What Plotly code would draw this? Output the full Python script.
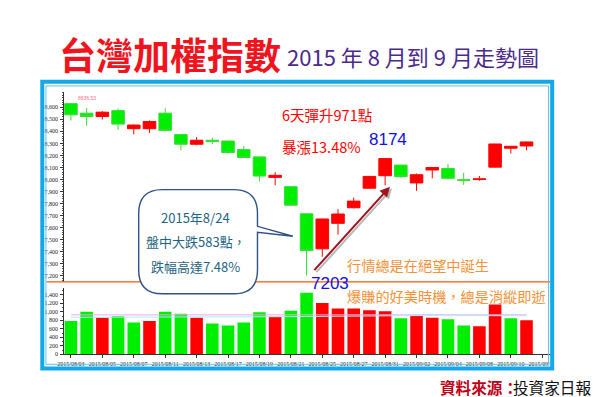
import plotly.graph_objects as go

W, H = 600, 397

# ---------------- data ----------------
dates = ["2015/08/03", "2015/08/04", "2015/08/05", "2015/08/06", "2015/08/07",
         "2015/08/10", "2015/08/11", "2015/08/12", "2015/08/13", "2015/08/14",
         "2015/08/17", "2015/08/18", "2015/08/19", "2015/08/20", "2015/08/21",
         "2015/08/24", "2015/08/25", "2015/08/26", "2015/08/27", "2015/08/28",
         "2015/08/31", "2015/09/01", "2015/09/02", "2015/09/03", "2015/09/04",
         "2015/09/07", "2015/09/08", "2015/09/09", "2015/09/10", "2015/09/11"]
axis_end_label = "2015/09/14"

open_ = [8630, 8551, 8523, 8572, 8422, 8422, 8551, 8373, 8293, 8326,
         8320, 8249, 8188, 8018, 7941, 7716, 7425, 7637, 7766, 7928,
         8032, 8120, 7972, 8079, 8092, 7998, 8000, 8103, 8260, 8279]
high = [8636.53, 8594, 8567, 8589, 8457, 8490, 8592, 8375, 8353, 8347,
        8322, 8277, 8190, 8062, 7945, 7716, 7675, 7755, 7851, 8030,
        8174.92, 8122, 8050, 8103, 8128, 8057, 8030, 8297, 8278, 8315]
low = [8490, 8446, 8498, 8413, 8375, 8386, 8402, 8243, 8285, 8293,
       8216, 8180, 7985, 7952, 7785, 7203.07, 7359, 7543, 7760, 7925,
       7952, 8015, 7906, 8010, 8000, 7956, 7990, 8100, 8216, 8243]
close = [8537, 8523, 8559, 8460, 8452, 8482, 8408, 8293, 8326, 8315,
         8224, 8183, 8029, 8035, 7787, 7410.34, 7673, 7714, 7821, 8026,
         8174, 8024, 8040, 8100, 8010, 7994, 8005, 8295, 8276, 8312]
prev_close = 8665

volume = [786, 1003, 863, 894, 747, 786, 1003, 957, 863, 723,
          677, 747, 988, 887, 1027, 1447, 1206, 1080, 1080, 1034,
          1011, 848, 910, 863, 824, 677, 661, 1174, 848, 801]
vol_ma_pink = [928, 928, 929, 929, 930, 930, 930, 931, 931, 931,
               931, 932, 932, 932, 932, 933, 933, 933, 933, 933,
               932, 932, 932, 931, 931, 931, 930, 930, 930, 930]
vol_ma_cyan = [872, 872, 871, 871, 871, 870, 870, 870, 871, 872,
               873, 875, 878, 882, 886, 890, 895, 900, 905, 908,
               910, 911, 911, 911, 910, 910, 909, 909, 908, 908]

price_ticks = [7200, 7300, 7400, 7500, 7600, 7700, 7800, 7900,
               8000, 8100, 8200, 8300, 8400, 8500, 8600]
vol_ticks = [0, 200, 400, 600, 800, 1000, 1200, 1400]

title_main = "台灣加權指數"
title_sub = "2015 年 8 月到 9 月走勢圖"
callout_lines = ["2015年8/24", "盤中大跌583點，", "跌幅高達7.48%"]
rise_text = "6天彈升971點"
pct_text = "暴漲13.48%"
note1 = "行情總是在絕望中誕生"
note2 = "爆賺的好美時機，總是消縱即逝"
source_label = "資料來源："
source_name = "投資家日報"

# ---------------- helpers ----------------
def px(x):
    return x / W

def py(y):
    return 1 - y / H

RED = "#ff0000"
GREEN = "#00ee00"
CJK = "Noto Sans CJK TC"

idx = list(range(len(dates)))
all_labels = dates + [axis_end_label]
tickvals = list(range(0, len(all_labels), 2))
ticktext = [all_labels[i] for i in tickvals]

closes_before = [prev_close] + close[:-1]
vol_colors = [RED if c >= p else GREEN for c, p in zip(close, closes_before)]

fig = go.Figure()

fig.add_trace(go.Candlestick(
    x=idx, open=open_, high=high, low=low, close=close,
    increasing=dict(line=dict(color=RED, width=1), fillcolor=RED),
    decreasing=dict(line=dict(color="#33dd33", width=1), fillcolor=GREEN),
    whiskerwidth=0, xaxis="x", yaxis="y", showlegend=False,
))

fig.add_trace(go.Bar(
    x=idx, y=volume, marker=dict(color=vol_colors, line=dict(width=0)),
    xaxis="x2", yaxis="y2", showlegend=False,
))
fig.add_trace(go.Scatter(x=idx, y=vol_ma_pink, mode="lines",
                         line=dict(color="#f0a8f0", width=1),
                         xaxis="x2", yaxis="y2", showlegend=False))
fig.add_trace(go.Scatter(x=idx, y=vol_ma_cyan, mode="lines",
                         line=dict(color="#a8eef8", width=1),
                         xaxis="x2", yaxis="y2", showlegend=False))

# slot positions: slot 0 at px 57, spacing 16.07
xr = [-0.436, 30.62]
xdom = [px(50), px(547)]

tickfont = dict(family="Liberation Serif", size=6, color="#222222")

fig.update_layout(
    width=W, height=H, autosize=False,
    margin=dict(l=0, r=0, t=0, b=0),
    paper_bgcolor="white", plot_bgcolor="white",
    boxgap=0.2, boxgroupgap=0, bargap=0.2,
    xaxis=dict(domain=xdom, range=xr, anchor="y", showticklabels=False,
               showgrid=False, zeroline=False, showline=False, ticks="",
               rangeslider=dict(visible=False), fixedrange=True),
    yaxis=dict(domain=[py(276), py(85)], range=[7150.6, 8723.5], anchor="x",
               tickvals=price_ticks, tickformat=",d", tickfont=tickfont,
               showgrid=False, zeroline=False, showline=True, linecolor="#333333",
               linewidth=1, ticks="outside", ticklen=3, tickcolor="#333333",
               minor=dict(dtick=20, ticks="outside", ticklen=1.5, tickcolor="#555555"),
               ticklabelstandoff=1),
    xaxis2=dict(domain=xdom, range=xr, anchor="y2", tickvals=tickvals,
                ticktext=ticktext, tickfont=dict(family="Liberation Serif", size=6, color="#222222"),
                showgrid=False, zeroline=False, showline=True, linecolor="#333333",
                linewidth=1, ticks="outside", ticklen=3, tickcolor="#333333",
                tickangle=0, ticklabelstandoff=0),
    yaxis2=dict(domain=[py(349), py(282)], range=[0, 1563], anchor="x2",
                tickvals=vol_ticks, tickformat=",d", tickfont=tickfont,
                showgrid=False, zeroline=False, showline=True, linecolor="#333333",
                linewidth=1, ticks="outside", ticklen=3, tickcolor="#333333",
                minor=dict(dtick=100, ticks="outside", ticklen=1.5, tickcolor="#555555"),
                ticklabelstandoff=1),
)

shapes = []
# orange separator line
shapes.append(dict(type="line", xref="paper", yref="paper",
                   x0=px(32), x1=px(545), y0=py(276), y1=py(276),
                   line=dict(color="#ff5a00", width=1.3), layer="above"))
# clip right side of chart (outside frame)
shapes.append(dict(type="rect", xref="paper", yref="paper",
                   x0=px(548), x1=1, y0=py(372), y1=py(68),
                   fillcolor="white", line=dict(width=0), layer="above"))
# frame: outer thick band and inner thin line
shapes.append(dict(type="rect", xref="paper", yref="paper",
                   x0=px(27.8), x1=px(547.2), y0=py(363.2), y1=py(74.2),
                   line=dict(color="#14a8e8", width=4), fillcolor="rgba(0,0,0,0)",
                   layer="above"))
shapes.append(dict(type="rect", xref="paper", yref="paper",
                   x0=px(31.5), x1=px(543.5), y0=py(359), y1=py(78.5),
                   line=dict(color="#5cc4f0", width=1), fillcolor="rgba(0,0,0,0)",
                   layer="above"))

# callout bubble
L, R, T, B, r = 126, 247, 183, 288, 24
pts = [
    ("M", (L + r, T)), ("L", (R - r, T)), ("Q", (R, T), (R, T + r)),
    ("L", (R, 220)), ("L", (283, 230)), ("L", (R, 226)),
    ("L", (R, B - r)), ("Q", (R, B), (R - r, B)), ("L", (L + r, B)),
    ("Q", (L, B), (L, B - r)), ("L", (L, T + r)), ("Q", (L, T), (L + r, T)),
]
path = ""
for item in pts:
    cmd = item[0]
    coords = " ".join(f"{px(a):.5f},{py(b):.5f}" for a, b in item[1:])
    path += f"{cmd} {coords} "
path += "Z"
shapes.append(dict(type="path", xref="paper", yref="paper", path=path,
                   fillcolor="white", line=dict(color="#2f5188", width=1.4),
                   layer="above"))
fig.update_layout(shapes=shapes)

ann = []
def text(t, x, y, size, color, xanchor="left", family=CJK, weight=None):
    f = dict(family=family, size=size, color=color)
    if weight:
        f["weight"] = weight
    ann.append(dict(text=t, x=px(x), y=py(y), xref="paper", yref="paper",
                    xanchor=xanchor, yanchor="middle", align=xanchor,
                    showarrow=False, font=f, borderpad=0))

text(title_main, 44, 46, 37, "#f0141e", weight="bold")
text(title_sub, 276, 48, 22, "#4b2a8c")

for line, yy in zip(callout_lines, [211, 235, 260]):
    text(line, 184, yy, 13, "#1f6482", xanchor="center")

text(rise_text, 271, 107, 14.5, "#ff0000")
text(pct_text, 271, 140, 14.5, "#ff0000")
text(f"{int(high[20])}", 360, 133, 17, "#1010e8", family="Liberation Sans")
text(f"{int(min(low))}", 301, 278, 17, "#1010e8", family="Liberation Sans")
text(note1, 337, 259, 14.2, "#f39237")
text(note2, 337, 290, 14.2, "#f39237")
text(f"{max(high):.2f}", 63, 91, 5, "#f0708a", family="Liberation Sans")

text(source_label, 432, 382, 15.6, "#c00018", weight="bold")
text(source_name, 588, 382, 15.6, "#111111", xanchor="right")

# rising arrow with shadow
for dx, color in [(2, "#b8b8b8"), (0, "#a0141e")]:
    ann.append(dict(x=px(382 + dx), y=py(180 + dx), xref="paper", yref="paper",
                    ax=-77, ay=85, showarrow=True, arrowhead=2, arrowsize=1,
                    arrowwidth=2, arrowcolor=color, text=""))

fig.update_layout(annotations=ann)

fig.write_html("out.html")
